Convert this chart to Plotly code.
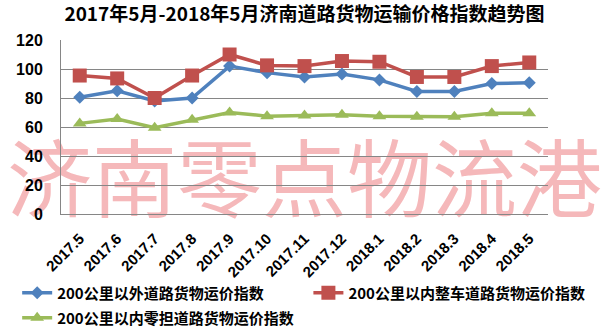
import plotly.graph_objects as go

months = ["2017.5", "2017.6", "2017.7", "2017.8", "2017.9", "2017.10", "2017.11",
          "2017.12", "2018.1", "2018.2", "2018.3", "2018.4", "2018.5"]
outer_200 = [80.5, 85, 78, 80, 102, 97.5, 94.5, 96.5, 92.5, 84.5, 84.5, 90, 90.5]
inner_full = [95.5, 93.5, 80, 95.5, 110, 102.5, 102, 105.5, 105, 94.5, 94.5, 102, 104.5]
inner_ltl = [62.5, 65.5, 59.5, 65, 70, 67.5, 68, 68.5, 67.5, 67, 67, 69.5, 69.5]

names = ["200公里以外道路货物运价指数", "200公里以内整车道路货物运价指数", "200公里以内零担道路货物运价指数"]
colors = ["#4F81BD", "#C0504D", "#9BBB59"]
symbols = ["diamond", "square", "triangle-up"]
sizes = [10, 14, 12]
legend_ids = ["legend", "legend2", "legend3"]
title = "2017年5月-2018年5月济南道路货物运输价格指数趋势图"
watermark = "济南零点物流港"

fig = go.Figure()
for vals, nm, c, s, sz, lg in zip([outer_200, inner_full, inner_ltl], names, colors, symbols, sizes, legend_ids):
    fig.add_trace(go.Scatter(x=months, y=vals, name=nm, mode="lines+markers", legend=lg,
                             line=dict(color=c, width=3.5),
                             marker=dict(symbol=s, size=sz, color=c)))

fig.add_shape(type="rect", xref="paper", yref="paper", x0=-0.12, x1=1.12, y0=-0.1, y1=0.4,
              line=dict(width=0), fillcolor="rgba(0,0,0,0)", layer="below",
              label=dict(text=watermark, font=dict(family="Noto Sans CJK SC", size=85, color="#F5B8BA"),
                         textposition="middle center"))

legfont = dict(family="Noto Sans CJK SC", size=15, color="black", weight="bold")
def leg(x, y):
    return dict(orientation="v", x=x, xanchor="left", y=y, yanchor="middle",
                font=legfont, bgcolor="rgba(0,0,0,0)", tracegroupgap=0)

fig.update_layout(
    width=609, height=329,
    margin=dict(l=61, r=61, t=40, b=115, autoexpand=False),
    paper_bgcolor="white", plot_bgcolor="rgba(0,0,0,0)",
    title=dict(text=title, x=0.5, xanchor="center", y=0.955, yanchor="middle",
               font=dict(family="Noto Sans CJK SC", size=19, color="black", weight="bold")),
    showlegend=True,
    legend=leg(-0.09, -0.454),
    legend2=leg(0.508, -0.454),
    legend3=leg(-0.09, -0.598),
    xaxis=dict(type="category", tickangle=-45, showgrid=False, showline=True, linecolor="#868686",
               linewidth=1, ticks="", ticklabelstandoff=9,
               tickfont=dict(family="Liberation Sans", size=15, color="black", weight="bold"),
               range=[-0.5, 12.5]),
    yaxis=dict(range=[0, 120], dtick=20, showgrid=True, gridcolor="#868686", gridwidth=1,
               showline=True, linecolor="#868686", linewidth=1, zeroline=False, ticks="",
               ticklabelstandoff=14,
               tickfont=dict(family="Liberation Sans", size=16, color="black", weight="bold")),
)
fig.write_html("out.html")
